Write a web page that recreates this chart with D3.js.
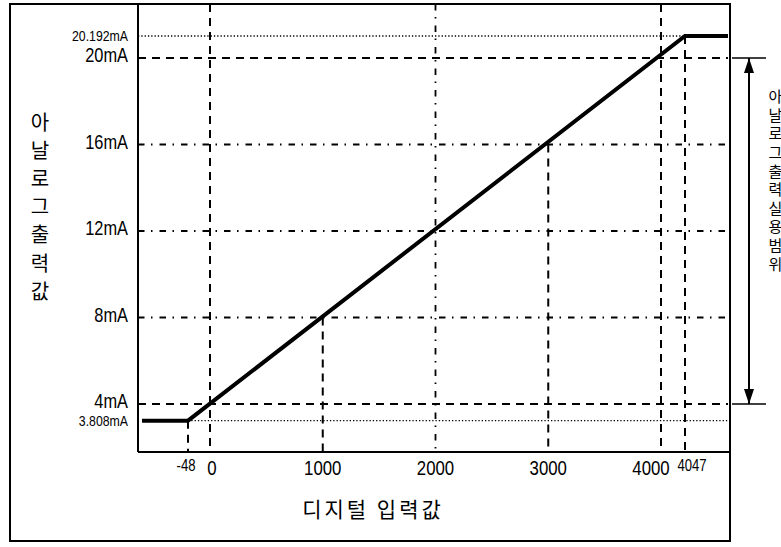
<!DOCTYPE html>
<html><head><meta charset="utf-8">
<script src="https://cdn.jsdelivr.net/npm/d3@7"></script>
<style>html,body{margin:0;padding:0;background:#fff;} svg{display:block;}</style>
</head><body><svg id="c" width="781" height="547"></svg>
<script>
// ---- data ----
const xTickValues = [-48, 0, 1000, 2000, 3000, 4000, 4047];
const xTickLabels = ["-48", "0", "1000", "2000", "3000", "4000", "4047"];
const xTickSmall  = [true, false, false, false, false, false, true];
const xGuideFromY = [3.808, null, 8, null, 16, null, 20.192];   // guide starts at this mA value (null = top)
const xGuideStyle = ["dash", "dash", "dash", "dashdot", "dash", "dash", "dash"];

const yTickValues = [3.808, 4, 8, 12, 16, 20, 20.192];
const yTickLabels = ["3.808mA", "4mA", "8mA", "12mA", "16mA", "20mA", "20.192mA"];
const yTickSmall  = [true, false, false, false, false, false, true];
const yGuideFromX = [-48, null, null, null, null, null, null]; // guide starts at this digital value (null = axis)
const yGuideStyle = ["dot", "dash", "dashdot", "dashdot", "dashdot", "dash", "dot"];

const kneeIn  = [-48, 4047];        // digital input at the clamp points
const kneeOut = [3.808, 20.192];    // analog output at the clamp points
const rangeLimits = [4, 20];        // usable output range (mA)

const yTitle = "아날로그출력값";
const xTitle = "디지털 입력값";
const rangeTitle = "아날로그출력실용범위";

// ---- layout ----
const W = 781, H = 547;
const frame = {l: 10, t: 4, r: 730, b: 541};
const plot = {l: 138, t: 4, r: 730, b: 452};
const numFont = "'Liberation Sans',Arial,sans-serif";
const narrow = 0.82;
const krFont = "'Noto Sans CJK KR','Noto Sans',sans-serif";
const dashes = {dash: "8,6", dashdot: "6.5,6.5,1.5,7", dot: "1.3,2"};
const widths = {dash: 2, dashdot: 1.8, dot: 1.3};
const xLabelNudge = {"-48": -2, "0": 2, "4000": -10, "4047": 7};

// piecewise (schematic) scales
const x = d3.scaleLinear()
  .domain([-100, kneeIn[0], 0, 4000, kneeIn[1], 4450])
  .range([142, 188, 210, 661, 685, 728]);
const y = d3.scaleLinear()
  .domain([kneeOut[0], rangeLimits[0], rangeLimits[1], kneeOut[1]])
  .range([420.7, 404, 58, 36]);

const svg = d3.select("#c");
svg.append("rect").attr("width", W).attr("height", H).attr("fill", "#fff");

// horizontal guides
const g = svg.append("g");
yTickValues.forEach((v, i) => {
  const st = yGuideStyle[i];
  g.append("line")
    .attr("x1", yGuideFromX[i] == null ? plot.l : x(yGuideFromX[i]))
    .attr("x2", plot.r - 2)
    .attr("y1", y(v)).attr("y2", y(v))
    .attr("stroke", "#000").attr("stroke-width", widths[st])
    .attr("stroke-dasharray", dashes[st]);
});
// vertical guides
xTickValues.forEach((v, i) => {
  const st = xGuideStyle[i];
  g.append("line")
    .attr("x1", x(v)).attr("x2", x(v))
    .attr("y1", xGuideFromY[i] == null ? plot.t : y(xGuideFromY[i]))
    .attr("y2", plot.b)
    .attr("stroke", "#000").attr("stroke-width", widths[st])
    .attr("stroke-dasharray", dashes[st]);
});

// frame and axes
svg.append("rect")
  .attr("x", frame.l).attr("y", frame.t)
  .attr("width", frame.r - frame.l).attr("height", frame.b - frame.t)
  .attr("fill", "none").attr("stroke", "#000").attr("stroke-width", 2);
svg.append("line").attr("x1", plot.l).attr("x2", plot.l).attr("y1", plot.t).attr("y2", plot.b)
  .attr("stroke", "#000").attr("stroke-width", 2);
svg.append("line").attr("x1", plot.l).attr("x2", plot.r).attr("y1", plot.b).attr("y2", plot.b)
  .attr("stroke", "#000").attr("stroke-width", 2);

// transfer line
const dom = x.domain();
const pts = [[dom[0], kneeOut[0]], [kneeIn[0], kneeOut[0]], [kneeIn[1], kneeOut[1]], [dom[dom.length - 1], kneeOut[1]]];
svg.append("path")
  .attr("d", d3.line().x(d => x(d[0])).y(d => y(d[1]))(pts))
  .attr("fill", "none").attr("stroke", "#000").attr("stroke-width", 4)
  .attr("stroke-linejoin", "miter");

// y tick labels (narrow sans)
yTickValues.forEach((v, i) => {
  svg.append("text")
    .attr("transform", `translate(128,${y(v) + (yTickSmall[i] ? 0.5 : -3)}) scale(${narrow},1)`)
    .attr("text-anchor", "end").attr("dominant-baseline", "central")
    .attr("font-family", numFont)
    .attr("font-size", yTickSmall[i] ? 15 : 20)
    .text(yTickLabels[i]);
});
// x tick labels
xTickValues.forEach((v, i) => {
  const px = x(v) + (xLabelNudge[xTickLabels[i]] || 0);
  const py = xTickSmall[i] ? 466 : 468;
  svg.append("text")
    .attr("transform", `translate(${px},${py}) scale(${narrow},1)`)
    .attr("text-anchor", "middle").attr("dominant-baseline", "central")
    .attr("font-family", numFont)
    .attr("font-size", xTickSmall[i] ? 16 : 20.5)
    .text(xTickLabels[i]);
});

// y title (vertical writing)
svg.append("text")
  .attr("x", 40).attr("y", 112)
  .attr("writing-mode", "vertical-rl")
  .style("text-orientation", "upright")
  .attr("font-family", krFont).attr("font-size", 20)
  .attr("letter-spacing", 8.2)
  .text(yTitle);
// x title
svg.append("text").attr("x", 373).attr("y", 508)
  .attr("font-family", krFont).attr("font-size", 21).attr("letter-spacing", 3)
  .attr("text-anchor", "middle").attr("dominant-baseline", "central")
  .text(xTitle);

// range annotation
const ax = 749;
const defs = svg.append("defs");
defs.append("marker").attr("id", "ah").attr("viewBox", "0 0 15 10")
  .attr("refX", 15).attr("refY", 5).attr("markerWidth", 15).attr("markerHeight", 10)
  .attr("markerUnits", "userSpaceOnUse").attr("orient", "auto-start-reverse")
  .append("path").attr("d", "M0,0 L15,5 L0,10 Z").attr("fill", "#000");
rangeLimits.forEach(v => {
  svg.append("line").attr("x1", 732).attr("x2", 766).attr("y1", y(v)).attr("y2", y(v))
    .attr("stroke", "#000").attr("stroke-width", 1.6);
});
svg.append("line").attr("x1", ax).attr("x2", ax)
  .attr("y1", y(rangeLimits[1])).attr("y2", y(rangeLimits[0]))
  .attr("stroke", "#000").attr("stroke-width", 2)
  .attr("marker-start", "url(#ah)").attr("marker-end", "url(#ah)");
svg.append("text")
  .attr("x", 775.5).attr("y", 89)
  .attr("writing-mode", "vertical-rl")
  .style("text-orientation", "upright")
  .attr("font-family", krFont).attr("font-size", 15)
  .attr("letter-spacing", 3.6)
  .text(rangeTitle);
</script>
</body></html>
